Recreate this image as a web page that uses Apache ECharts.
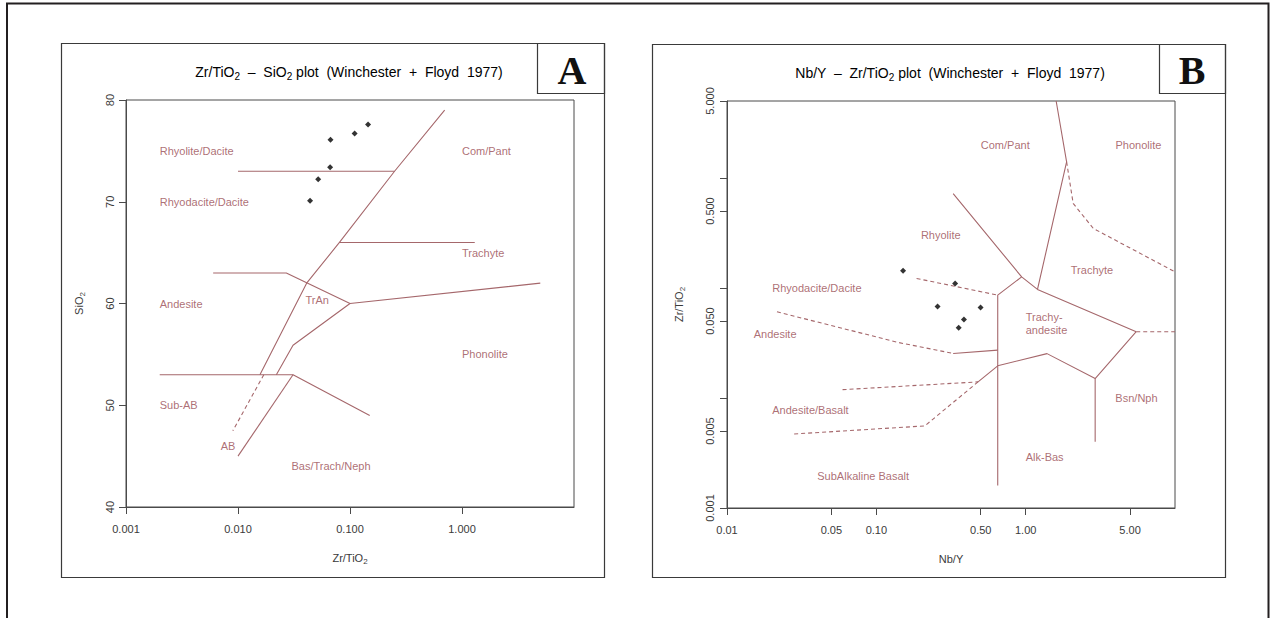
<!DOCTYPE html>
<html><head><meta charset="utf-8">
<script src="https://cdn.jsdelivr.net/npm/echarts@6/dist/echarts.min.js"></script>
<style>html,body{margin:0;padding:0;background:#fff}#c{width:1271px;height:618px}</style>
</head><body><div id="c"></div>
<script>
// ===== Panel A : Zr/TiO2 - SiO2 (Winchester & Floyd 1977) =====
const aXTicks = [0.001, 0.01, 0.1, 1];
const aYTicks = [40, 50, 60, 70, 80];
const aSampleZrTiO2 = [0.145, 0.110, 0.067, 0.0665, 0.052, 0.044];
const aSampleSiO2   = [77.6, 76.7, 76.1, 73.4, 72.2, 70.1];
const aSolidLines = [
  [[0.01, 73], [0.25, 73]],
  [[0.0157, 53], [0.041, 62], [0.0805, 66], [0.25, 73], [0.7, 79]],
  [[0.08, 66], [1.3, 66]],
  [[0.006, 63], [0.027, 63], [0.1, 60], [5, 62]],
  [[0.022, 53], [0.031, 55.9], [0.1, 60]],
  [[0.002, 53], [0.031, 53], [0.15, 49]],
  [[0.031, 53], [0.01, 45]]
];
const aDashedLines = [
  [[0.017, 53], [0.009, 47.5]]
];
const aFieldNamesLeft = [
  ['Rhyolite/Dacite', 0.002, 75], ['Rhyodacite/Dacite', 0.002, 70],
  ['Andesite', 0.002, 60], ['Sub-AB', 0.002, 50],
  ['Com/Pant', 1, 75], ['Trachyte', 1, 65], ['Phonolite', 1, 55],
  ['TrAn', 0.04, 60.3], ['AB', 0.007, 46], ['Bas/Trach/Neph', 0.03, 44]
];

// ===== Panel B : Nb/Y - Zr/TiO2 (Winchester & Floyd 1977) =====
const bXTicks = [0.01, 0.05, 0.1, 0.5, 1, 5];
const bYTicks = [0.001, 0.005, 0.01, 0.05, 0.1, 0.5, 1, 5];
const bYTickLabels = [0.001, 0.005, 0.05, 0.5, 5];
const bSampleNbY    = [0.151, 0.337, 0.257, 0.499, 0.386, 0.356];
const bSampleZrTiO2 = [0.143, 0.110, 0.0679, 0.0665, 0.0517, 0.0434];
const bSolidLines = [
  [[1.6, 5], [1.88, 1.4], [1.2, 0.097]],
  [[0.327, 0.72], [0.94, 0.126], [1.2, 0.097], [5.5, 0.04]],
  [[0.94, 0.126], [0.65, 0.086], [0.65, 0.0016]],
  [[0.327, 0.0254], [0.65, 0.0272]],
  [[0.48, 0.014], [0.65, 0.0196], [1.39, 0.0253], [2.92, 0.015], [5.5, 0.04]],
  [[2.92, 0.015], [2.92, 0.004]]
];
const bDashedLines = [
  [[1.88, 1.4], [2.08, 0.586], [2.84, 0.347], [10, 0.14]],
  [[5.5, 0.04], [10, 0.04]],
  [[0.186, 0.122], [0.65, 0.086]],
  [[0.0216, 0.0607], [0.141, 0.0319], [0.327, 0.0254]],
  [[0.0594, 0.0119], [0.48, 0.014]],
  [[0.48, 0.014], [0.211, 0.00557], [0.027, 0.00469]]
];
const bFieldNamesCenter = [
  ['Com/Pant', 0.73, 2], ['Phonolite', 5.69, 2], ['Rhyolite', 0.27, 0.30],
  ['Trachyte', 2.78, 0.145], ['Rhyodacite/Dacite', 0.04, 0.1],
  ['Andesite', 0.021, 0.038], ['Andesite/Basalt', 0.0362, 0.00775],
  ['SubAlkaline Basalt', 0.0816, 0.00195], ['Alk-Bas', 1.34, 0.00293],
  ['Bsn/Nph', 5.52, 0.0099]
];
const bFieldNamesLeft = [
  ['Trachy-\nandesite', 1.0, 0.048]
];

// ===== styling / building =====
const FONT = 'Liberation Sans, Arial, sans-serif';
const LINE = '#a5676b', TEXT = '#984a51', AX = '#4a4a4a', TICKTXT = '#3a3a3a';
const subRich = {
  n: {fontSize: 11, fontFamily: FONT, color: TICKTXT, lineHeight: 15},
  s: {fontSize: 8, fontFamily: FONT, color: TICKTXT, lineHeight: 8, verticalAlign: 'bottom'}
};
const titleRich = {
  n: {fontSize: 14, fontFamily: FONT, color: '#2a2a2a', lineHeight: 18},
  s: {fontSize: 10, fontFamily: FONT, color: '#2a2a2a', lineHeight: 10, verticalAlign: 'bottom'}
};

function lineSeries(lines, idx, dashed) {
  return lines.map(pts => ({
    type: 'line', xAxisIndex: idx, yAxisIndex: idx, data: pts,
    symbol: 'none', showSymbol: false, silent: true, animation: false, z: 2,
    lineStyle: {color: LINE, width: 1.1, type: dashed ? [4, 3] : 'solid'}
  }));
}
function labelSeries(list, idx, pos) {
  return {
    type: 'scatter', xAxisIndex: idx, yAxisIndex: idx, symbolSize: 0, silent: true, animation: false,
    data: list.map(l => ({name: l[0], value: [l[1], l[2]]})),
    label: {show: true, position: pos, distance: 0, formatter: '{b}', color: TEXT,
            fontSize: 11, fontFamily: FONT, lineHeight: 13, align: pos === 'right' ? 'left' : 'center'}
  };
}
function pointSeries(xs, ys, idx) {
  return {
    type: 'scatter', xAxisIndex: idx, yAxisIndex: idx, symbol: 'diamond', symbolSize: 6,
    itemStyle: {color: '#000'}, z: 5, animation: false,
    data: xs.map((x, i) => [x, ys[i]])
  };
}
const axCommon = {
  axisLine: {show: true, onZero: false, lineStyle: {color: AX, width: 1}},
  axisTick: {show: true, inside: false, length: 7, lineStyle: {color: AX}},
  splitLine: {show: false}, minorTick: {show: false}, minorSplitLine: {show: false}
};

const option = {
  animation: false,
  backgroundColor: '#fff',
  grid: [
    {left: 126, top: 100, width: 448, height: 407, show: true, borderColor: AX, borderWidth: 1, backgroundColor: 'transparent'},
    {left: 727, top: 101, width: 448, height: 407, show: true, borderColor: AX, borderWidth: 1, backgroundColor: 'transparent'}
  ],
  xAxis: [
    Object.assign({}, axCommon, {
      gridIndex: 0, type: 'log', logBase: 10, min: 0.001, max: 10,
      axisTick: Object.assign({}, axCommon.axisTick, {customValues: aXTicks}),
      axisLabel: {customValues: aXTicks, formatter: v => Number(v).toFixed(3), margin: 16,
                  color: TICKTXT, fontSize: 11, fontFamily: FONT},
      name: '{n|Zr/TiO}{s|2}', nameLocation: 'middle', nameGap: 43,
      nameTextStyle: {rich: subRich}
    }),
    Object.assign({}, axCommon, {
      gridIndex: 1, type: 'log', logBase: 10, min: 0.01, max: 10,
      axisTick: Object.assign({}, axCommon.axisTick, {customValues: bXTicks}),
      axisLabel: {customValues: bXTicks, formatter: v => Number(v).toFixed(2), margin: 16,
                  color: TICKTXT, fontSize: 11, fontFamily: FONT},
      name: '{n|Nb/Y}', nameLocation: 'middle', nameGap: 43,
      nameTextStyle: {rich: subRich}
    })
  ],
  yAxis: [
    Object.assign({}, axCommon, {
      gridIndex: 0, type: 'value', min: 40, max: 80, interval: 10,
      axisLabel: {rotate: 90, margin: 11, color: TICKTXT, fontSize: 11, fontFamily: FONT},
      name: '{n|SiO}{s|2}', nameLocation: 'middle', nameGap: 40, nameRotate: 90,
      nameTextStyle: {rich: subRich}
    }),
    Object.assign({}, axCommon, {
      gridIndex: 1, type: 'log', logBase: 10, min: 0.001, max: 5,
      axisTick: Object.assign({}, axCommon.axisTick, {customValues: bYTicks}),
      axisLabel: {customValues: bYTickLabels, rotate: 90, margin: 12, formatter: v => Number(v).toFixed(3),
                  color: TICKTXT, fontSize: 11, fontFamily: FONT},
      name: '{n|Zr/TiO}{s|2}', nameLocation: 'middle', nameGap: 41, nameRotate: 90,
      nameTextStyle: {rich: subRich}
    })
  ],
  series: [].concat(
    lineSeries(aSolidLines, 0, false), lineSeries(aDashedLines, 0, true),
    [labelSeries(aFieldNamesLeft, 0, 'right'), pointSeries(aSampleZrTiO2, aSampleSiO2, 0)],
    lineSeries(bSolidLines, 1, false), lineSeries(bDashedLines, 1, true),
    [labelSeries(bFieldNamesCenter, 1, 'inside'), labelSeries(bFieldNamesLeft, 1, 'right'),
     pointSeries(bSampleNbY, bSampleZrTiO2, 1)]
  ),
  graphic: [
    {type: 'polyline', silent: true, shape: {points: [[7, 630], [7, 3.5], [1268.5, 3.5], [1268.5, 630]]},
     style: {stroke: '#231f20', lineWidth: 2, fill: 'none'}},
    {type: 'rect', silent: true, shape: {x: 61.5, y: 43.5, width: 543, height: 534},
     style: {stroke: '#3a3a3a', lineWidth: 1.2, fill: 'none'}},
    {type: 'rect', silent: true, shape: {x: 537.5, y: 43.5, width: 67, height: 50},
     style: {stroke: '#3a3a3a', lineWidth: 1.2, fill: 'none'}},
    {type: 'text', silent: true, style: {text: 'A', x: 572, y: 70, align: 'center', verticalAlign: 'middle',
     font: 'bold 40px "Liberation Serif", "Times New Roman", serif', fill: '#111'}},
    {type: 'rect', silent: true, shape: {x: 652.5, y: 44.5, width: 573, height: 533},
     style: {stroke: '#3a3a3a', lineWidth: 1.2, fill: 'none'}},
    {type: 'rect', silent: true, shape: {x: 1159.5, y: 44.5, width: 66, height: 49},
     style: {stroke: '#3a3a3a', lineWidth: 1.2, fill: 'none'}},
    {type: 'text', silent: true, style: {text: 'B', x: 1192, y: 70, align: 'center', verticalAlign: 'middle',
     font: 'bold 40px "Liberation Serif", "Times New Roman", serif', fill: '#111'}},
    {type: 'text', silent: true, style: {
      text: '{n|Zr/TiO}{s|2}{n|  –  SiO}{s|2}{n| plot  (Winchester  +  Floyd  1977)}',
      x: 349, y: 72, align: 'center', verticalAlign: 'middle', rich: titleRich}},
    {type: 'text', silent: true, style: {
      text: '{n|Nb/Y  –  Zr/TiO}{s|2}{n| plot  (Winchester  +  Floyd  1977)}',
      x: 950, y: 73, align: 'center', verticalAlign: 'middle', rich: titleRich}}
  ]
};
const chart = echarts.init(document.getElementById('c'), null, {renderer: 'svg', width: 1271, height: 618});
chart.setOption(option);
</script>
</body></html>
